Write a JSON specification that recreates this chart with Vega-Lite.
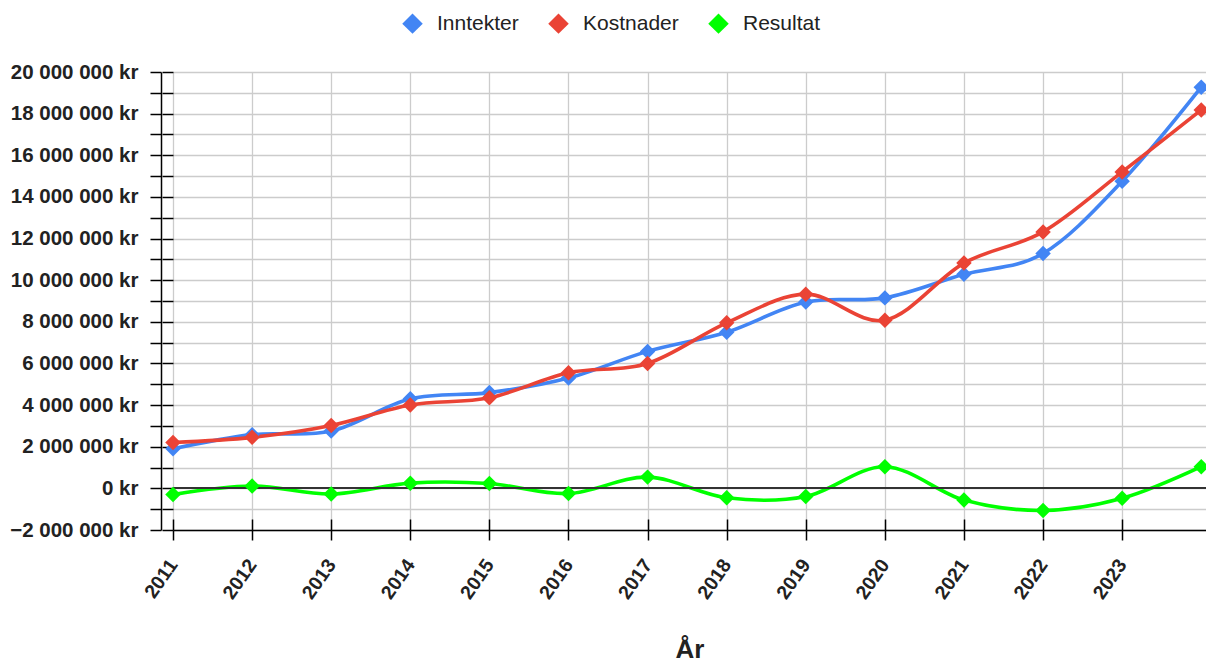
{
  "$schema": "https://vega.github.io/schema/vega-lite/v6.json",
  "width": 1033,
  "height": 458,
  "autosize": "none",
  "padding": {"left": 173, "top": 72, "right": 0, "bottom": 133},
  "background": "white",
  "config": {
    "view": {"stroke": null},
    "locale": {
      "number": {"decimal": ",", "thousands": " ", "grouping": [3], "currency": ["", " kr"]}
    },
    "axis": {
      "labelFont": "Liberation Sans",
      "titleFont": "Liberation Sans",
      "labelColor": "#222222",
      "titleColor": "#222222",
      "gridColor": "#cccccc",
      "gridWidth": 1.3,
      "domainColor": "#000000",
      "tickColor": "#000000",
      "domainWidth": 1.5,
      "tickWidth": 1.5
    },
    "legend": {
      "labelFont": "Liberation Sans"
    }
  },
  "data": {
    "values": [
      {"År": 2011, "Serie": "Inntekter", "Verdi": 1900000},
      {"År": 2012, "Serie": "Inntekter", "Verdi": 2580000},
      {"År": 2013, "Serie": "Inntekter", "Verdi": 2750000},
      {"År": 2014, "Serie": "Inntekter", "Verdi": 4300000},
      {"År": 2015, "Serie": "Inntekter", "Verdi": 4600000},
      {"År": 2016, "Serie": "Inntekter", "Verdi": 5300000},
      {"År": 2017, "Serie": "Inntekter", "Verdi": 6580000},
      {"År": 2018, "Serie": "Inntekter", "Verdi": 7500000},
      {"År": 2019, "Serie": "Inntekter", "Verdi": 8950000},
      {"År": 2020, "Serie": "Inntekter", "Verdi": 9150000},
      {"År": 2021, "Serie": "Inntekter", "Verdi": 10280000},
      {"År": 2022, "Serie": "Inntekter", "Verdi": 11280000},
      {"År": 2023, "Serie": "Inntekter", "Verdi": 14750000},
      {"År": 2024, "Serie": "Inntekter", "Verdi": 19270000},
      {"År": 2011, "Serie": "Kostnader", "Verdi": 2200000},
      {"År": 2012, "Serie": "Kostnader", "Verdi": 2450000},
      {"År": 2013, "Serie": "Kostnader", "Verdi": 3020000},
      {"År": 2014, "Serie": "Kostnader", "Verdi": 4000000},
      {"År": 2015, "Serie": "Kostnader", "Verdi": 4350000},
      {"År": 2016, "Serie": "Kostnader", "Verdi": 5550000},
      {"År": 2017, "Serie": "Kostnader", "Verdi": 6000000},
      {"År": 2018, "Serie": "Kostnader", "Verdi": 7950000},
      {"År": 2019, "Serie": "Kostnader", "Verdi": 9330000},
      {"År": 2020, "Serie": "Kostnader", "Verdi": 8080000},
      {"År": 2021, "Serie": "Kostnader", "Verdi": 10820000},
      {"År": 2022, "Serie": "Kostnader", "Verdi": 12320000},
      {"År": 2023, "Serie": "Kostnader", "Verdi": 15200000},
      {"År": 2024, "Serie": "Kostnader", "Verdi": 18180000},
      {"År": 2011, "Serie": "Resultat", "Verdi": -300000},
      {"År": 2012, "Serie": "Resultat", "Verdi": 110000},
      {"År": 2013, "Serie": "Resultat", "Verdi": -270000},
      {"År": 2014, "Serie": "Resultat", "Verdi": 250000},
      {"År": 2015, "Serie": "Resultat", "Verdi": 230000},
      {"År": 2016, "Serie": "Resultat", "Verdi": -250000},
      {"År": 2017, "Serie": "Resultat", "Verdi": 540000},
      {"År": 2018, "Serie": "Resultat", "Verdi": -450000},
      {"År": 2019, "Serie": "Resultat", "Verdi": -390000},
      {"År": 2020, "Serie": "Resultat", "Verdi": 1040000},
      {"År": 2021, "Serie": "Resultat", "Verdi": -560000},
      {"År": 2022, "Serie": "Resultat", "Verdi": -1060000},
      {"År": 2023, "Serie": "Resultat", "Verdi": -480000},
      {"År": 2024, "Serie": "Resultat", "Verdi": 1040000}
    ]
  },
  "resolve": {"axis": {"x": "independent", "y": "independent"}},
  "layer": [
    {
      "mark": {"type": "line", "interpolate": "cardinal", "strokeWidth": 3.6},
      "encoding": {
        "x": {
          "field": "År", "type": "quantitative",
          "scale": {"domain": [2011, 2024.06], "nice": false, "zero": false},
          "axis": {
            "orient": "bottom",
            "values": [2011, 2012, 2013, 2014, 2015, 2016, 2017, 2018, 2019, 2020, 2021, 2022, 2023],
            "format": "d",
            "labelAngle": -55,
            "labelFontSize": 19.5,
            "labelFontWeight": "bold",
            "labelPadding": 21,
            "tickSize": 10,
            "grid": true,
            "title": "År",
            "titleFontSize": 26,
            "titleFontWeight": "bold",
            "titleBaseline": "alphabetic",
            "titleY": 127
          }
        },
        "y": {
          "field": "Verdi", "type": "quantitative",
          "scale": {"domain": [-2000000, 20000000], "nice": false, "zero": false},
          "axis": {
            "orient": "left",
            "offset": 12,
            "values": [-2000000, -1000000, 0, 1000000, 2000000, 3000000, 4000000, 5000000, 6000000, 7000000, 8000000, 9000000, 10000000, 11000000, 12000000, 13000000, 14000000, 15000000, 16000000, 17000000, 18000000, 19000000, 20000000],
            "format": "$,.0f",
            "labelExpr": "datum.value % 2000000 == 0 ? datum.label : ''",
            "labelFontSize": 20.5,
            "labelFontWeight": "bold",
            "labelPadding": 12,
            "tickSize": 11,
            "grid": true,
            "title": null
          }
        },
        "color": {
          "field": "Serie", "type": "nominal",
          "scale": {"domain": ["Inntekter", "Kostnader", "Resultat"], "range": ["#4285F4", "#EA4335", "#00FF00"]},
          "legend": {
            "orient": "none",
            "direction": "horizontal",
            "legendX": 229,
            "legendY": -59,
            "title": null,
            "symbolType": "diamond",
            "symbolSize": 420,
            "symbolStrokeWidth": 0,
            "symbolOpacity": 1,
            "labelFontSize": 21,
            "labelColor": "#222222",
            "labelOffset": 14,
            "columnPadding": 29
          }
        }
      }
    },
    {
      "mark": {"type": "rule", "color": "#333333", "strokeWidth": 1.5},
      "encoding": {
        "y": {"datum": 0, "axis": null}
      }
    },
    {
      "mark": {"type": "point", "shape": "diamond", "filled": true, "size": 240, "opacity": 1},
      "encoding": {
        "x": {
          "field": "År", "type": "quantitative",
          "axis": {
            "orient": "bottom",
            "offset": -11,
            "values": [2011, 2012, 2013, 2014, 2015, 2016, 2017, 2018, 2019, 2020, 2021, 2022, 2023],
            "labels": false, "domain": false, "grid": false, "tickSize": 11, "title": null
          }
        },
        "y": {
          "field": "Verdi", "type": "quantitative",
          "axis": {
            "orient": "left",
            "offset": 0,
            "values": [-2000000, -1000000, 0, 1000000, 2000000, 3000000, 4000000, 5000000, 6000000, 7000000, 8000000, 9000000, 10000000, 11000000, 12000000, 13000000, 14000000, 15000000, 16000000, 17000000, 18000000, 19000000, 20000000],
            "labels": false, "domain": false, "grid": false, "tickSize": 11, "title": null
          }
        },
        "color": {
          "field": "Serie", "type": "nominal",
          "legend": {
            "orient": "none",
            "direction": "horizontal",
            "legendX": 229,
            "legendY": -59,
            "title": null,
            "symbolType": "diamond",
            "symbolSize": 420,
            "symbolStrokeWidth": 0,
            "symbolOpacity": 1,
            "labelFontSize": 21,
            "labelColor": "#222222",
            "labelOffset": 14,
            "columnPadding": 29
          }
        }
      }
    }
  ]
}
